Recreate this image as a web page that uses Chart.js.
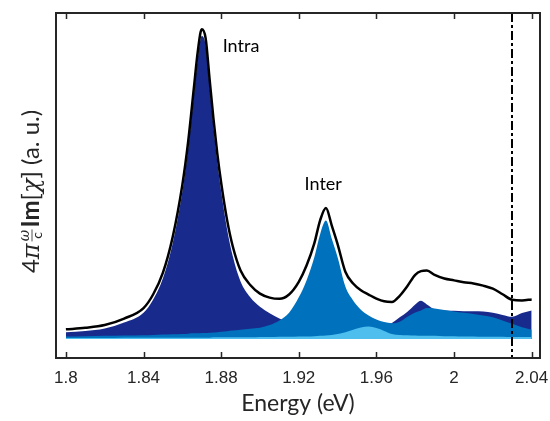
<!DOCTYPE HTML>
<html>
<head>
  <script src="https://cdn.jsdelivr.net/npm/chart.js"></script>
  <style>
    body { margin: 0; background: #ffffff; }
  </style>
</head>
<body>
  <canvas id="myChart" width="550" height="421"></canvas>

  <script type="text/javascript">

    // photon energy (eV)
    var energy = [1.800, 1.810, 1.820, 1.830, 1.840, 1.845, 1.850, 1.855, 1.860, 1.863,
                  1.866, 1.868, 1.870, 1.872, 1.874, 1.876, 1.878, 1.880, 1.883, 1.886,
                  1.890, 1.895, 1.900, 1.905, 1.910, 1.915, 1.920, 1.924, 1.928, 1.931,
                  1.934, 1.937, 1.940, 1.944, 1.948, 1.952, 1.956, 1.960, 1.964, 1.968,
                  1.972, 1.976, 1.980, 1.983, 1.986, 1.990, 1.995, 2.000, 2.005, 2.010,
                  2.015, 2.020, 2.025, 2.030, 2.035, 2.040];

    // intraband contribution (dark blue)
    var intra = [0.022, 0.026, 0.034, 0.053, 0.085, 0.128, 0.197, 0.310, 0.478, 0.618,
                 0.795, 0.912, 0.983, 0.953, 0.823, 0.692, 0.576, 0.479, 0.358, 0.268,
                 0.186, 0.135, 0.104, 0.083, 0.066, 0.052, 0.042, 0.036, 0.032, 0.030,
                 0.028, 0.027, 0.026, 0.025, 0.025, 0.026, 0.028, 0.032, 0.040, 0.052,
                 0.070, 0.088, 0.112, 0.124, 0.112, 0.096, 0.092, 0.091, 0.090, 0.090,
                 0.089, 0.085, 0.078, 0.072, 0.084, 0.092];

    // interband contribution (blue)
    var inter = [0.008, 0.009, 0.010, 0.011, 0.012, 0.013, 0.014, 0.015, 0.016, 0.017,
                 0.018, 0.018, 0.019, 0.019, 0.020, 0.021, 0.022, 0.023, 0.025, 0.027,
                 0.030, 0.033, 0.036, 0.045, 0.060, 0.085, 0.135, 0.190, 0.265, 0.340,
                 0.384, 0.325, 0.265, 0.170, 0.125, 0.095, 0.076, 0.063, 0.055, 0.051,
                 0.056, 0.072, 0.086, 0.092, 0.100, 0.099, 0.094, 0.089, 0.085, 0.081,
                 0.076, 0.070, 0.060, 0.049, 0.038, 0.030];

    // third contribution (light blue)
    var third = [0.003, 0.003, 0.003, 0.004, 0.004, 0.004, 0.004, 0.004, 0.004, 0.004,
                 0.004, 0.004, 0.004, 0.004, 0.004, 0.005, 0.005, 0.005, 0.005, 0.005,
                 0.005, 0.005, 0.006, 0.006, 0.007, 0.007, 0.008, 0.008, 0.009, 0.010,
                 0.011, 0.013, 0.016, 0.022, 0.030, 0.037, 0.040, 0.035, 0.026, 0.016,
                 0.013, 0.012, 0.011, 0.010, 0.010, 0.010, 0.009, 0.009, 0.008, 0.008,
                 0.007, 0.007, 0.007, 0.006, 0.006, 0.006];

    // total response (black line)
    var total = [0.031, 0.036, 0.045, 0.066, 0.100, 0.145, 0.215, 0.330, 0.500, 0.640,
                 0.818, 0.935, 1.005, 0.976, 0.846, 0.717, 0.602, 0.507, 0.388, 0.300,
                 0.222, 0.175, 0.147, 0.134, 0.130, 0.144, 0.185, 0.238, 0.310, 0.385,
                 0.425, 0.368, 0.308, 0.218, 0.180, 0.158, 0.144, 0.131, 0.122, 0.120,
                 0.140, 0.172, 0.208, 0.220, 0.222, 0.208, 0.196, 0.190, 0.184, 0.180,
                 0.173, 0.163, 0.145, 0.127, 0.125, 0.128];

    var xTicks = [1.8, 1.84, 1.88, 1.92, 1.96, 2, 2.04];
    var xTickLabels = ['1.8', '1.84', '1.88', '1.92', '1.96', '2', '2.04'];
    var cutoffEnergy = [2.03];
    var peakNames = ['Intra', 'Inter'];
    var peakNameEnergy = [1.8808, 1.923];
    var peakNameValue = [0.951, 0.503];

    function pts(vals) {
      return vals.map(function (v, i) { return { x: energy[i], y: v }; });
    }

    function area(label, vals, color, order) {
      return {
        label: label,
        data: pts(vals),
        order: order,
        fill: 'origin',
        backgroundColor: color,
        borderWidth: 0,
        pointRadius: 0,
        cubicInterpolationMode: 'monotone'
      };
    }

    // frame, inner ticks, dashed marker, texts
    var decor = {
      id: 'decor',
      afterDatasetsDraw: function (chart) {
        var ctx = chart.ctx;
        var a = chart.chartArea;
        var xs = chart.scales.x;
        var ys = chart.scales.y;
        ctx.save();

        // dash-dot marker
        ctx.strokeStyle = '#000000';
        ctx.lineWidth = 2;
        ctx.setLineDash([9, 3, 3, 3]);
        cutoffEnergy.forEach(function (e) {
          var px = Math.round(xs.getPixelForValue(e));
          ctx.beginPath();
          ctx.moveTo(px, a.top);
          ctx.lineTo(px, a.bottom);
          ctx.stroke();
        });
        ctx.setLineDash([]);

        // box
        ctx.strokeStyle = '#262626';
        ctx.lineWidth = 2;
        ctx.strokeRect(a.left, a.top, a.right - a.left, a.bottom - a.top);

        // ticks pointing in
        ctx.lineWidth = 1.5;
        xTicks.forEach(function (t) {
          var px = Math.round(xs.getPixelForValue(t)) + 0.5;
          ctx.beginPath();
          ctx.moveTo(px, a.bottom);
          ctx.lineTo(px, a.bottom - 6);
          ctx.moveTo(px, a.top);
          ctx.lineTo(px, a.top + 6);
          ctx.stroke();
        });

        // peak names
        ctx.fillStyle = '#000000';
        ctx.font = '18px Lato';
        ctx.textAlign = 'left';
        ctx.textBaseline = 'middle';
        peakNames.forEach(function (n, i) {
          ctx.fillText(n, xs.getPixelForValue(peakNameEnergy[i]), ys.getPixelForValue(peakNameValue[i]));
        });

        // y axis title, 4 pi (omega / c) Im[chi] (a. u.)
        ctx.translate(31, (a.top + a.bottom) / 2 + 6);
        ctx.rotate(-Math.PI / 2);
        ctx.fillStyle = '#262626';
        ctx.strokeStyle = '#262626';
        ctx.textBaseline = 'alphabetic';
        var parts = [
          { t: '4', f: '24px Lato' },
          { t: '\u03c0', f: 'italic 24px "DejaVu Serif"' },
          { frac: true, w: 14 },
          { t: 'Im', f: 'bold 24px Lato' },
          { t: '[', f: '24px Lato' },
          { t: '\u03c7', f: 'italic 24px "DejaVu Serif"' },
          { t: ']', f: '24px Lato' },
          { t: ' (a. u.)', f: '24px Lato' }
        ];
        var width = 0;
        parts.forEach(function (p) {
          if (p.frac) { width += p.w + 2; return; }
          ctx.font = p.f;
          p.w = ctx.measureText(p.t).width;
          width += p.w;
        });
        var cx = -width / 2;
        var base = 8;
        parts.forEach(function (p) {
          if (p.frac) {
            ctx.font = 'italic 14px "DejaVu Serif"';
            ctx.textAlign = 'center';
            ctx.fillText('\u03c9', cx + 1 + p.w / 2, base - 10);
            ctx.font = '14px Lato';
            ctx.fillText('c', cx + 1 + p.w / 2, base + 3);
            ctx.lineWidth = 0.8;
            ctx.beginPath();
            ctx.moveTo(cx + 2, base - 7);
            ctx.lineTo(cx + p.w, base - 7);
            ctx.stroke();
            ctx.textAlign = 'left';
            cx += p.w + 2;
            return;
          }
          ctx.font = p.f;
          ctx.fillText(p.t, cx, base);
          cx += p.w;
        });

        ctx.restore();
      }
    };

    var ctx = document.getElementById('myChart');
    var chart = new Chart(ctx, {
      type: 'line',
      data: {
        datasets: [
          {
            label: 'total',
            data: pts(total),
            order: 0,
            fill: false,
            borderColor: '#000000',
            borderWidth: 2.5,
            pointRadius: 0,
            cubicInterpolationMode: 'monotone'
          },
          area('third', third, 'rgb(77, 190, 238)', 1),
          area('inter', inter, 'rgb(0, 114, 189)', 2),
          area('intra', intra, 'rgb(24, 43, 140)', 3)
        ]
      },
      options: {
        responsive: false,
        animation: false,
        layout: { padding: { left: 56, right: 10, top: 13, bottom: 0 } },
        plugins: {
          legend: { display: false },
          tooltip: { enabled: false }
        },
        scales: {
          x: {
            type: 'linear',
            min: 1.7949,
            max: 2.0443,
            afterBuildTicks: function (s) {
              s.ticks = xTicks.map(function (v) { return { value: v }; });
            },
            afterFit: function (s) {
              s.height = 63;
              s.paddingLeft = 0;
              s.paddingRight = 0;
            },
            grid: { display: false, drawTicks: false },
            border: { display: false },
            ticks: {
              autoSkip: false,
              maxRotation: 0,
              padding: 10,
              color: '#262626',
              font: { family: 'Liberation Sans', size: 17 },
              callback: function (v, i) { return xTickLabels[i]; }
            },
            title: {
              display: true,
              text: 'Energy (eV)',
              color: '#262626',
              font: { family: 'Lato', size: 23 },
              padding: { top: 0, bottom: 4 }
            }
          },
          y: {
            display: false,
            min: -0.062,
            max: 1.058
          }
        }
      },
      plugins: [decor]
    });

  </script>
</body>
</html>
